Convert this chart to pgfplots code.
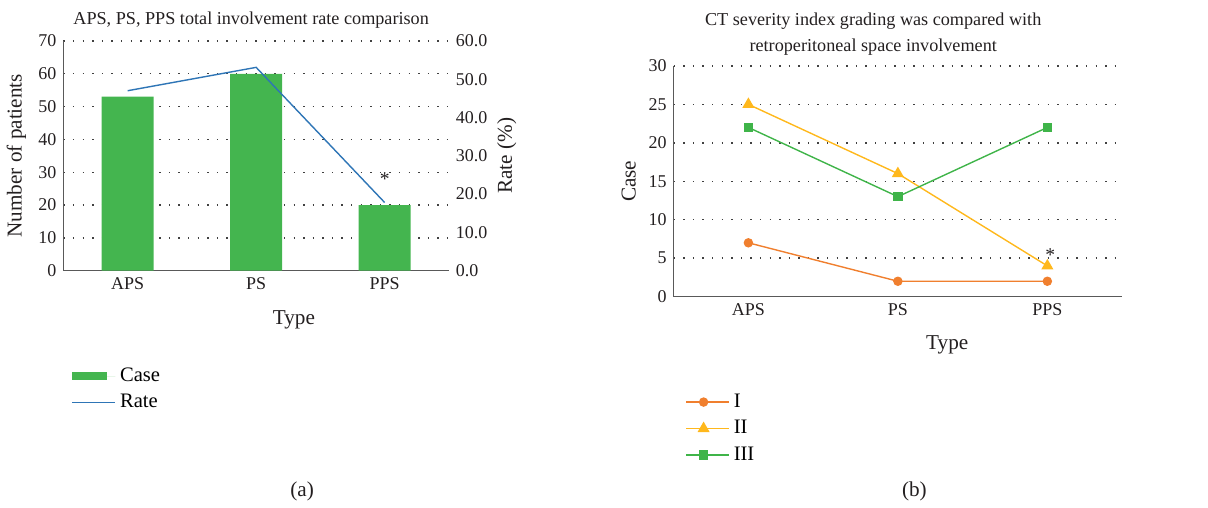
\documentclass[border=0pt]{standalone}
\usepackage{fontspec}
\setmainfont{Liberation Serif}
\usepackage{pgfplots}
\pgfplotsset{compat=1.18}
\definecolor{bargreen}{HTML}{44B54F}
\definecolor{rateblue}{HTML}{2E75B6}
\definecolor{cI}{HTML}{F07F2E}
\definecolor{cII}{HTML}{FFB81C}
\definecolor{cIII}{HTML}{3FB449}
\definecolor{axgray}{HTML}{595959}
\definecolor{txt}{HTML}{231F20}
\begin{document}
\begin{tikzpicture}
\path (0pt,0pt) rectangle (604pt,253.5pt);
\pgfplotsset{
  base/.style={
    scale only axis,
    font=\fontsize{9}{11}\selectfont,
    /pgf/number format/assume math mode=true,
    ticklabel style={text=txt, font=\fontsize{9}{11}\selectfont},
    label style={text=txt, font=\fontsize{10.6}{12}\selectfont},
    title style={text=txt, align=center, anchor=center, yshift=-6pt, font=\fontsize{9.1}{13}\selectfont},
    xmin=-0.5, xmax=2.5,
    xtick={0,1,2}, xticklabels={APS,PS,PPS},
    major tick length=0pt,
    axis line style={axgray, line width=0.8pt, -},
    grid style={black!75, line width=0.7pt, dash pattern=on 0.7pt off 4.1pt},
    legend cell align=left,
  },
  lineleg/.style={legend image code/.code={
      \path (0pt,0pt) -- (21.5pt,0pt);
      \draw[##1] (0pt,0pt) -- (17.5pt,0pt);
      \draw[##1, mark repeat=1, mark phase=1] plot coordinates {(8.75pt,0pt)};}},
}
% ---------- (a) left: bars ----------
\begin{axis}[base,
  at={(31pt,118pt)}, anchor=south west, width=193pt, height=115pt,
  ymin=0, ymax=70, ytick={0,10,...,70},
  axis x line*=bottom, axis y line*=left,
  ymajorgrids,
  ylabel={Number of patients},
  ylabel style={at={(axis description cs:-0.122,0.5)}, anchor=center},
  xlabel={Type},
  xlabel style={at={(axis description cs:0.598,-0.213)}, anchor=center},
  title={APS, PS, PPS total involvement rate comparison},
  title style={at={(axis description cs:0.487,1.091)}},
  legend style={at={(axis description cs:0.005,-0.386)}, anchor=north west,
    draw=none, fill=none, row sep=1pt, font=\fontsize{10.3}{12}\selectfont},
]
\addplot[ybar, bar width=26pt, fill=bargreen, draw=none,
  legend image code/.code={\path (0pt,0pt) -- (21.5pt,0pt); \fill[bargreen] (0pt,-2pt) rectangle (17.5pt,2pt);}]
  coordinates {(0,53) (1,60) (2,20)};
\addlegendentry{Case}
\addlegendimage{rateblue, line width=0.7pt, legend image code/.code={\path (0pt,0pt) -- (21.5pt,0pt); \draw[rateblue, line width=0.7pt] (0pt,0pt) -- (17.5pt,0pt);}}
\addlegendentry{Rate}
\node[text=txt, font=\fontsize{9.8}{11}\selectfont] at (axis cs:2,28) {*};
\end{axis}
% ---------- (a) left: rate line on right axis ----------
\begin{axis}[base,
  at={(31pt,118pt)}, anchor=south west, width=193pt, height=115pt,
  ymin=0, ymax=60, ytick={0,10,...,60},
  axis x line=none, axis y line*=right,
  y axis line style={draw=none},
  yticklabel style={/pgf/number format/.cd, fixed, fixed zerofill, precision=1},
  ylabel={Rate (\%)},
  ylabel style={at={(axis description cs:1.150,0.5)}, anchor=center, rotate=0},
]
\addplot[rateblue, line width=0.7pt, mark=none] coordinates {(0,47.0) (1,53.1) (2,17.8)};
\end{axis}
% ---------- (b) right: lines ----------
\begin{axis}[base,
  at={(336.5pt,105pt)}, anchor=south west, width=224.5pt, height=115.5pt,
  ymin=0, ymax=30, ytick={0,5,...,30},
  axis x line*=bottom, axis y line*=left,
  ymajorgrids,
  ylabel={Case},
  ylabel style={at={(axis description cs:-0.100,0.5)}, anchor=center},
  xlabel={Type},
  xlabel style={at={(axis description cs:0.610,-0.208)}, anchor=center},
  title={CT severity index grading was compared with\\retroperitoneal space involvement},
  title style={at={(axis description cs:0.445,1.137)}},
  legend style={at={(axis description cs:0.012,-0.385)}, anchor=north west,
    draw=none, fill=none, row sep=1pt, font=\fontsize{10.3}{12}\selectfont},
]
\addplot[lineleg, cI, line width=0.7pt, mark=*, mark size=2pt, mark options={fill=cI, draw=cI}]
  coordinates {(0,7) (1,2) (2,2)};
\addlegendentry{I}
\addplot[lineleg, cII, line width=0.7pt, mark=triangle*, mark size=2.8pt, mark options={fill=cII, draw=cII}]
  coordinates {(0,25) (1,16) (2,4)};
\addlegendentry{II}
\addplot[lineleg, cIII, line width=0.7pt, mark=square*, mark size=2pt, mark options={fill=cIII, draw=cIII}]
  coordinates {(0,22) (1,13) (2,22)};
\addlegendentry{III}
\node[text=txt, font=\fontsize{9.8}{11}\selectfont] at (axis cs:2.02,5.4) {*};
\end{axis}
\node[text=txt, font=\fontsize{10.6}{12}\selectfont] at (150.5pt,7.5pt) {(a)};
\node[text=txt, font=\fontsize{10.6}{12}\selectfont] at (457pt,7.5pt) {(b)};
\end{tikzpicture}
\end{document}
